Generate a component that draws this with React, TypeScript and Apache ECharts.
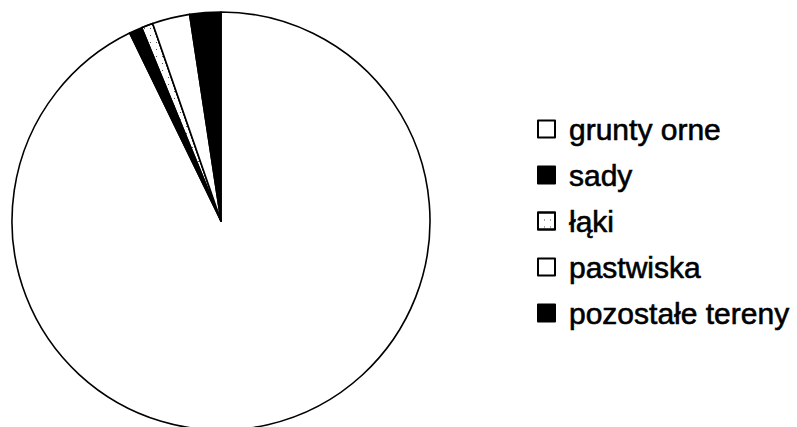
import React, { useEffect, useRef } from "react";
import * as echarts from "echarts";

const categories = ["grunty orne", "sady", "łąki", "pastwiska", "pozostałe tereny"];
const values = [92.8, 1.0, 0.9, 2.9, 2.4];
const fills = ["#ffffff", "#000000", "#ffffff", "#ffffff", "#000000"];

export default function App() {
  const ref = useRef<HTMLDivElement>(null);
  useEffect(() => {
    if (!ref.current) return;
    const chart = echarts.init(ref.current, undefined, { renderer: "svg" });
    const data = categories.map((name, i) => {
      const item: any = {
        name,
        value: values[i],
        itemStyle: { color: fills[i], borderColor: "#000", borderWidth: 1.6 },
      };
      if (name === "łąki") {
        item.itemStyle.decal = {
          symbol: "rect",
          symbolSize: 1,
          color: "#555",
          dashArrayX: [1, 5],
          dashArrayY: [1, 6],
          rotation: 0,
          backgroundColor: "#ffffff",
        };
      }
      return item;
    });
    chart.setOption({
      animation: false,
      backgroundColor: "#ffffff",
      legend: {
        orient: "vertical",
        left: 537,
        top: 113,
        padding: 0,
        icon: "rect",
        itemWidth: 17,
        itemHeight: 17,
        itemGap: 14,
        data: categories,
        itemStyle: { borderWidth: 2 },
        textStyle: {
          fontFamily: "Liberation Sans, Arial, sans-serif",
          fontSize: 30,
          lineHeight: 32,
          color: "#000",
          textBorderColor: "#000",
          textBorderWidth: 0.6,
          padding: [0, 0, 0, 9],
        },
        selectedMode: false,
      },
      series: [
        {
          type: "pie",
          center: [221, 221],
          radius: 209,
          startAngle: 90,
          clockwise: true,
          label: { show: false },
          labelLine: { show: false },
          emphasis: { disabled: true },
          data,
        },
      ],
    });
    return () => chart.dispose();
  }, []);
  return (
    <div
      ref={ref}
      style={{ position: "fixed", left: 0, top: 0, width: 797, height: 427 }}
    />
  );
}
